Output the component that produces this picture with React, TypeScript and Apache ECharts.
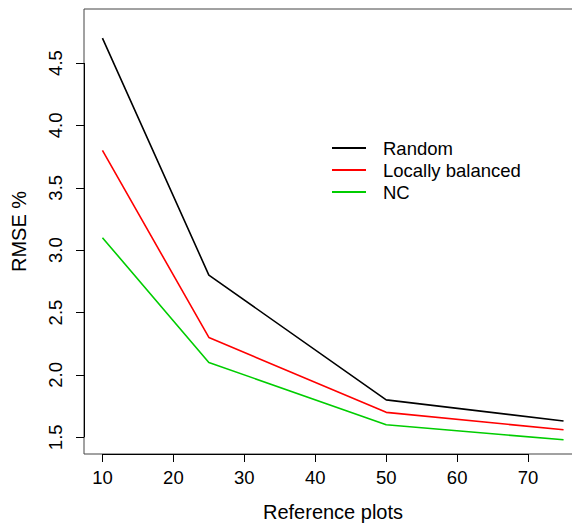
import React, { useEffect, useRef } from "react";
import * as echarts from "echarts";

// Number of reference plots
const referencePlots = [10, 25, 50, 75];
// RMSE (%) per sampling design
const randomRmse = [4.7, 2.8, 1.8, 1.63];
const locallyBalancedRmse = [3.8, 2.3, 1.7, 1.56];
const ncRmse = [3.1, 2.1, 1.6, 1.48];

const xTicks = [10, 20, 30, 40, 50, 60, 70];
const yTicks = [1.5, 2.0, 2.5, 3.0, 3.5, 4.0, 4.5];

const X_MIN = 7.4;
const X_MAX = 77.6;
const Y_MIN = 1.366;
const Y_MAX = 4.933;

const FONT = "'Liberation Sans', Arial, Helvetica, sans-serif";

export default function App() {
  const ref = useRef<HTMLDivElement>(null);

  useEffect(() => {
    if (!ref.current) return;
    const chart = echarts.init(ref.current, undefined, { renderer: "svg" });

    const toPairs = (ys: number[]) => referencePlots.map((x, i) => [x, ys[i]]);

    const axisSegments = {
      silent: true,
      symbol: ["none", "none"],
      label: { show: false },
      lineStyle: { color: "#000", width: 1, type: "solid" as const },
      data: [
        [
          { coord: [xTicks[0], Y_MIN] },
          { coord: [xTicks[xTicks.length - 1], Y_MIN] },
        ],
        [
          { coord: [X_MIN, yTicks[0]] },
          { coord: [X_MIN, yTicks[yTicks.length - 1]] },
        ],
      ],
    };

    const legendItem = (name: string, color: string) => ({
      name,
      icon: "rect",
      itemStyle: { color },
    });

    chart.setOption({
      animation: false,
      backgroundColor: "#fff",
      textStyle: { fontFamily: FONT },
      grid: {
        left: 84,
        top: 9,
        bottom: 75,
        right: -10,
        show: true,
        borderColor: "#444",
        borderWidth: 1,
        containLabel: false,
        outerBoundsMode: "none",
      },
      legend: {
        orient: "vertical",
        left: 327,
        top: 133,
        itemWidth: 34,
        itemHeight: 2,
        itemGap: 2,
        textStyle: {
          fontFamily: FONT,
          fontSize: 18.5,
          color: "#000",
          lineHeight: 20,
          padding: [0, 0, 0, 12],
        },
        data: [
          legendItem("Random", "#000000"),
          legendItem("Locally balanced", "#ff0000"),
          legendItem("NC", "#00cd00"),
        ],
      },
      xAxis: {
        type: "value",
        min: X_MIN,
        max: X_MAX,
        name: "Reference plots",
        nameLocation: "middle",
        nameGap: 48,
        nameTextStyle: { fontFamily: FONT, fontSize: 20, color: "#000" },
        splitLine: { show: false },
        axisLine: { show: false },
        axisTick: {
          show: true,
          inside: false,
          length: 8,
          lineStyle: { color: "#000", width: 1 },
          customValues: xTicks,
        },
        axisLabel: {
          fontFamily: FONT,
          fontSize: 18.5,
          color: "#000",
          margin: 14,
          customValues: xTicks,
        },
      },
      yAxis: {
        type: "value",
        min: Y_MIN,
        max: Y_MAX,
        name: "RMSE %",
        nameLocation: "middle",
        nameGap: 55,
        nameRotate: 90,
        nameTextStyle: { fontFamily: FONT, fontSize: 20, color: "#000" },
        splitLine: { show: false },
        axisLine: { show: false },
        axisTick: {
          show: true,
          inside: false,
          length: 8,
          lineStyle: { color: "#000", width: 1 },
          customValues: yTicks,
        },
        axisLabel: {
          fontFamily: FONT,
          fontSize: 18.5,
          color: "#000",
          rotate: 90,
          margin: 19,
          customValues: yTicks,
          formatter: (v: number) => v.toFixed(1),
        },
      },
      series: [
        {
          name: "Random",
          type: "line",
          data: toPairs(randomRmse),
          symbol: "none",
          color: "#000000",
          lineStyle: { color: "#000000", width: 1.6 },
          markLine: axisSegments,
        },
        {
          name: "Locally balanced",
          type: "line",
          data: toPairs(locallyBalancedRmse),
          symbol: "none",
          color: "#ff0000",
          lineStyle: { color: "#ff0000", width: 1.6 },
        },
        {
          name: "NC",
          type: "line",
          data: toPairs(ncRmse),
          symbol: "none",
          color: "#00cd00",
          lineStyle: { color: "#00cd00", width: 1.6 },
        },
      ],
    });

    return () => chart.dispose();
  }, []);

  return (
    <div
      ref={ref}
      style={{ position: "fixed", left: 0, top: 0, width: 572, height: 529 }}
    />
  );
}
